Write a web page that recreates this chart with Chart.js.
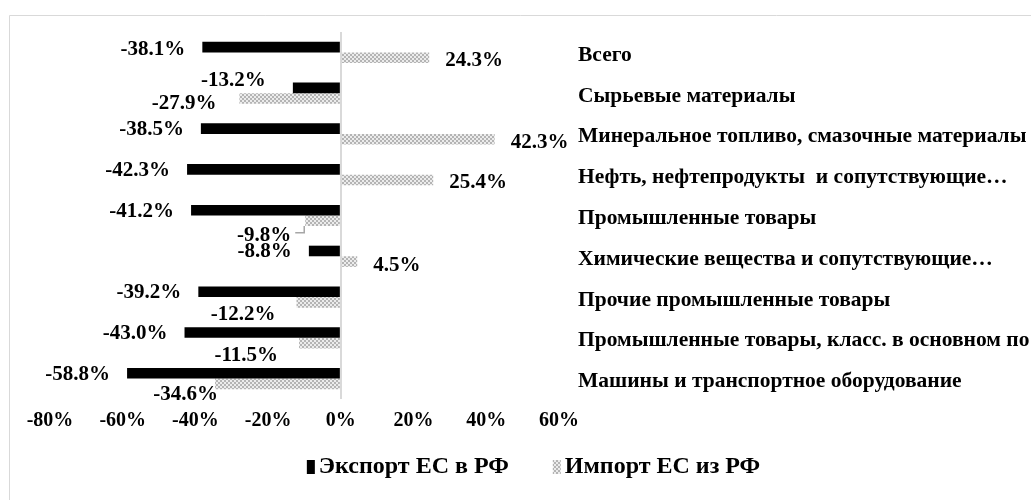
<!DOCTYPE html>
<html>
<head>
<meta charset="utf-8">
<script src="https://cdn.jsdelivr.net/npm/chart.js@4/dist/chart.umd.min.js"></script>
<style>
  html, body { margin: 0; padding: 0; background: #fff; }
  #wrap { width: 1031px; height: 500px; position: relative; }
</style>
</head>
<body>
<div id="wrap"><canvas id="chart"></canvas></div>
<script>
// categories (top to bottom)
const categories = [
    'Всего',
    'Сырьевые материалы',
    'Минеральное топливо, смазочные материалы',
    'Нефть, нефтепродукты  и сопутствующие…',
    'Промышленные товары',
    'Химические вещества и сопутствующие…',
    'Прочие промышленные товары',
    'Промышленные товары, класс. в основном по',
    'Машины и транспортное оборудование'
];
const exportEU = [-38.1, -13.2, -38.5, -42.3, -41.2, -8.8, -39.2, -43.0, -58.8];
const importEU = [24.3, -27.9, 42.3, 25.4, -9.8, 4.5, -12.2, -11.5, -34.6];
const seriesNames = ['Экспорт ЕС в РФ', 'Импорт ЕС из РФ'];
const xTicks = [-80, -60, -40, -20, 0, 20, 40, 60];

const FONT = "'Liberation Serif', 'Times New Roman', serif";

// fine grey checker pattern, like the Excel "dotted" fill
function makePattern() {
    const c = document.createElement('canvas');
    c.width = 4; c.height = 4;
    const g = c.getContext('2d');
    g.fillStyle = '#ececec';
    g.fillRect(0, 0, 4, 4);
    g.fillStyle = '#b4b4b4';
    g.fillRect(0, 0, 2, 2);
    g.fillRect(2, 2, 2, 2);
    return g.createPattern(c, 'repeat');
}
const pattern = makePattern();

// label nudges [dx, dy] per dataset, per category (manual moves in the original)
const labelNudge = [
    [[0, 2], [-10, -7], [0, 1], [0, 1], [0, 1], [0, 1], [0, 1], [0, 1], [0, 1]],
    [[0, 3], [-6, 5], [0, 3], [0, 3], [3, 15], [0, 4], [-4, 12], [-4, 12], [20, 11]]
];
const leaderLines = [[1, 4]]; // dataset, index

const frame = {
    id: 'frame',
    beforeDraw(chart) {
        const ctx = chart.ctx;
        ctx.save();
        ctx.fillStyle = '#fff';
        ctx.fillRect(0, 0, chart.width, chart.height);
        ctx.strokeStyle = '#d9d9d9';
        ctx.lineWidth = 1;
        ctx.beginPath();
        ctx.moveTo(9.5, chart.height + 5);
        ctx.lineTo(9.5, 15.5);
        ctx.lineTo(chart.width + 5, 15.5);
        ctx.stroke();
        ctx.restore();
    }
};

const valueLabels = {
    id: 'valueLabels',
    afterDatasetsDraw(chart) {
        const ctx = chart.ctx;
        ctx.save();
        ctx.font = 'bold 21px ' + FONT;
        ctx.fillStyle = '#000';
        ctx.textBaseline = 'middle';
        chart.data.datasets.forEach((ds, di) => {
            const meta = chart.getDatasetMeta(di);
            meta.data.forEach((bar, i) => {
                const v = ds.data[i];
                const txt = v.toFixed(1) + '%';
                const [dx, dy] = labelNudge[di][i];
                let x, align;
                if (v < 0) { x = bar.x - 17 + dx; align = 'right'; }
                else { x = bar.x + 16 + dx; align = 'left'; }
                const y = bar.y + dy;
                ctx.textAlign = align;
                ctx.fillText(txt, x, y);
                if (leaderLines.some(l => l[0] === di && l[1] === i)) {
                    const w = ctx.measureText(txt).width;
                    const lx = align === 'right' ? x + 4 : x - w - 4;
                    ctx.strokeStyle = '#a6a6a6';
                    ctx.lineWidth = 1.5;
                    ctx.beginPath();
                    ctx.moveTo(lx, y - 3);
                    ctx.lineTo(bar.x - 1, y - 3);
                    ctx.lineTo(bar.x - 1, bar.y + bar.height / 2);
                    ctx.stroke();
                }
            });
        });
        ctx.restore();
    }
};

// legend drawn by hand: small tall marker, text right next to it
const legendRow = {
    id: 'legendRow',
    afterDraw(chart) {
        const ctx = chart.ctx;
        ctx.save();
        ctx.font = 'bold 24px ' + FONT;
        ctx.textBaseline = 'middle';
        ctx.textAlign = 'left';
        const boxW = 8, boxH = 14, gap = 4, itemGap = 44;
        const items = chart.data.datasets.map(ds => ({
            text: ds.label, fill: ds.backgroundColor,
            w: boxW + gap + ctx.measureText(ds.label).width
        }));
        const total = items.reduce((s, it) => s + it.w, 0) + itemGap * (items.length - 1);
        let x = chart.width / 2 + 18 - total / 2;
        const y = 467;
        items.forEach(it => {
            ctx.fillStyle = it.fill;
            ctx.fillRect(x, y - boxH / 2, boxW, boxH);
            ctx.fillStyle = '#000';
            ctx.fillText(it.text, x + boxW + gap, y);
            x += it.w + itemGap;
        });
        ctx.restore();
    }
};

new Chart(document.getElementById('chart'), {
    type: 'bar',
    data: {
        labels: categories,
        datasets: [
            { label: seriesNames[0], data: exportEU, backgroundColor: '#000', borderWidth: 0 },
            { label: seriesNames[1], data: importEU, backgroundColor: pattern, borderWidth: 0 }
        ]
    },
    options: {
        indexAxis: 'y',
        responsive: true,
        maintainAspectRatio: false,
        animation: false,
        categoryPercentage: 0.52,
        barPercentage: 1.0,
        layout: { padding: { left: 50, top: 32, right: 0, bottom: 57 } },
        plugins: {
            tooltip: { enabled: false },
            legend: { display: false }
        },
        scales: {
            x: {
                min: -80,
                max: 60,
                afterBuildTicks: (s) => { s.ticks = xTicks.map(v => ({ value: v })); },
                grid: {
                    drawTicks: false,
                    color: (c) => c.tick && c.tick.value === 0 ? '#d9d9d9' : 'rgba(0,0,0,0)',
                    lineWidth: 2
                },
                border: { display: false },
                ticks: {
                    color: '#000',
                    padding: 10,
                    font: { family: FONT, size: 20, weight: 'bold' },
                    callback: (v) => v + '%'
                }
            },
            y: {
                position: 'right',
                afterFit: (s) => { s.width = 472; },
                grid: { display: false },
                border: { display: false },
                ticks: {
                    color: '#000',
                    padding: 11,
                    labelOffset: 3,
                    font: { family: FONT, size: 21.5, weight: 'bold' }
                }
            }
        }
    },
    plugins: [frame, valueLabels, legendRow]
});
</script>
</body>
</html>
